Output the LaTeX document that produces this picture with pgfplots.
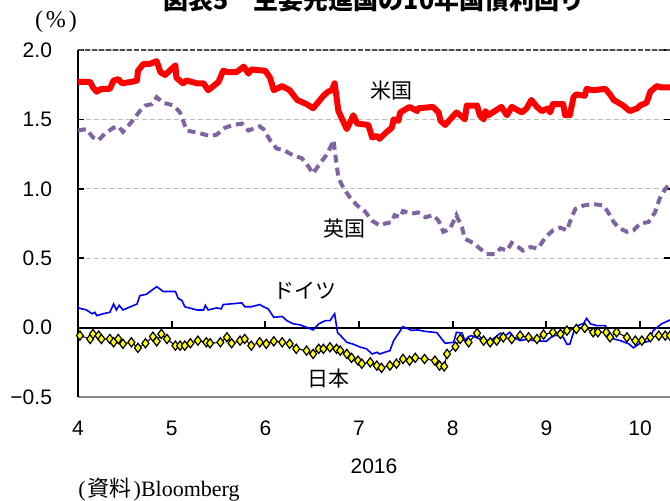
\documentclass[border=0pt]{standalone}
\usepackage{fontspec}
\setmainfont{Liberation Sans}
\newfontfamily\cjk{Noto Sans CJK JP}
\newfontfamily\serif{Liberation Serif}
\usepackage{pgfplots}
\pgfplotsset{compat=1.18}
\definecolor{usred}{RGB}{255,0,0}
\definecolor{ukpurple}{RGB}{128,100,162}
\definecolor{deblue}{RGB}{0,0,255}
\definecolor{jpyellow}{RGB}{255,255,0}

\begin{document}
\begin{tikzpicture}
% title, mostly outside the page as in the source image
\node[anchor=base, font=\cjk\bfseries\fontsize{12.5}{14}\selectfont] at (148pt,193.5pt) {図表5　主要先進国の10年国債利回り};

\begin{axis}[
  scale only axis, width=296pt, height=173.5pt,
  xmin=4, xmax=10.32, ymin=-0.5, ymax=2,
  clip=false,
  axis line style={draw=none},
  xtick={4,5,6,7,8,9,10},
  xticklabels={4,5,6,7,8,9,10},
  xtick style={draw=none},
  xticklabel style={anchor=center, yshift=-15.5pt, font=\fontsize{10.5}{12}\selectfont},
  ytick={-0.5,0,0.5,1,1.5,2},
  yticklabels={−0.5,0.0,0.5,1.0,1.5,2.0},
  yticklabel style={anchor=east, xshift=-9.5pt, font=\fontsize{10.5}{12}\selectfont},
  tick align=inside,
  ytick style={black, line width=0.8pt},
  major tick length=3pt,
  ymajorgrids,
  grid style={gray!50, line width=0.6pt, dash pattern=on 2.5pt off 1.5pt},
]
% axes frame pieces
\draw[gray!60!black, line width=0.6pt, dash pattern=on 2.5pt off 1pt] (rel axis cs:0,1) -- (rel axis cs:1,1);
\draw[gray!90, line width=1.2pt] (rel axis cs:0,0) -- (rel axis cs:1,0);
\draw[black, line width=0.8pt] (rel axis cs:0,0) -- (rel axis cs:0,1);
\draw[black, line width=1pt] (axis cs:4,0) -- (axis cs:10.32,0);
\pgfplotsinvokeforeach{5,6,7,8,9,10}{
  \draw[black, line width=0.9pt] (axis cs:#1,0) -- ([yshift=3.5pt]axis cs:#1,0);
}

% US
\addplot[usred, line width=3pt, line join=round] coordinates {
(4.00,1.77)(4.13,1.77)(4.16,1.73)(4.20,1.70)(4.25,1.72)(4.34,1.72)(4.38,1.78)(4.43,1.79)(4.47,1.76)(4.57,1.77)(4.63,1.78)(4.64,1.85)(4.70,1.90)(4.77,1.90)(4.84,1.92)(4.88,1.84)(4.93,1.82)(5.04,1.89)(5.05,1.80)(5.12,1.76)(5.16,1.78)(5.27,1.76)(5.34,1.76)(5.39,1.71)(5.50,1.77)(5.55,1.85)(5.61,1.84)(5.69,1.84)(5.77,1.88)(5.82,1.83)(5.85,1.86)(6.00,1.85)(6.05,1.80)(6.09,1.71)(6.18,1.74)(6.26,1.71)(6.34,1.64)(6.44,1.61)(6.51,1.58)(6.62,1.67)(6.67,1.70)(6.71,1.71)(6.74,1.76)(6.78,1.56)(6.87,1.43)(6.94,1.53)(6.98,1.47)(7.10,1.46)(7.14,1.37)(7.19,1.38)(7.22,1.36)(7.28,1.40)(7.35,1.44)(7.37,1.50)(7.42,1.49)(7.44,1.55)(7.54,1.59)(7.62,1.56)(7.63,1.58)(7.79,1.59)(7.85,1.55)(7.87,1.49)(7.92,1.46)(8.04,1.55)(8.08,1.53)(8.13,1.50)(8.15,1.60)(8.26,1.60)(8.29,1.53)(8.33,1.50)(8.35,1.56)(8.38,1.53)(8.52,1.59)(8.58,1.53)(8.63,1.59)(8.74,1.55)(8.79,1.58)(8.84,1.64)(8.90,1.59)(8.95,1.56)(9.02,1.58)(9.04,1.55)(9.07,1.61)(9.18,1.61)(9.20,1.53)(9.25,1.53)(9.29,1.66)(9.32,1.68)(9.41,1.67)(9.43,1.72)(9.50,1.71)(9.63,1.72)(9.68,1.68)(9.72,1.64)(9.82,1.60)(9.89,1.56)(9.97,1.58)(10.00,1.60)(10.07,1.62)(10.11,1.70)(10.18,1.74)(10.23,1.73)(10.32,1.73)
};

% UK
\addplot[ukpurple, line width=2pt, dash pattern=on 4pt off 2.5pt] coordinates {
(4.00,1.42)(4.09,1.43)(4.16,1.37)(4.22,1.35)(4.29,1.40)(4.38,1.44)(4.43,1.45)(4.48,1.41)(4.57,1.48)(4.66,1.56)(4.72,1.60)(4.79,1.61)(4.84,1.66)(4.91,1.62)(5.02,1.60)(5.09,1.55)(5.16,1.42)(5.30,1.40)(5.41,1.38)(5.48,1.39)(5.57,1.44)(5.66,1.46)(5.75,1.47)(5.82,1.42)(5.94,1.45)(5.98,1.43)(6.05,1.35)(6.12,1.29)(6.19,1.28)(6.30,1.24)(6.39,1.22)(6.44,1.18)(6.51,1.11)(6.58,1.18)(6.66,1.25)(6.73,1.35)(6.74,1.28)(6.78,1.08)(6.83,1.01)(6.90,0.94)(6.98,0.88)(7.06,0.84)(7.14,0.77)(7.22,0.735)(7.28,0.75)(7.35,0.76)(7.38,0.81)(7.44,0.795)(7.47,0.84)(7.56,0.82)(7.63,0.83)(7.71,0.795)(7.79,0.81)(7.85,0.77)(7.90,0.69)(7.97,0.71)(8.04,0.81)(8.10,0.72)(8.13,0.64)(8.22,0.61)(8.29,0.57)(8.36,0.53)(8.45,0.53)(8.51,0.57)(8.58,0.555)(8.63,0.61)(8.68,0.59)(8.75,0.555)(8.83,0.58)(8.91,0.57)(8.99,0.65)(9.07,0.70)(9.15,0.72)(9.22,0.70)(9.27,0.795)(9.31,0.855)(9.40,0.88)(9.50,0.89)(9.61,0.88)(9.66,0.83)(9.72,0.76)(9.77,0.72)(9.86,0.69)(9.93,0.70)(10.00,0.75)(10.09,0.76)(10.16,0.83)(10.21,0.93)(10.27,1.00)(10.32,1.035)
};

% Japan
\addplot[black, line width=0.5pt, mark=diamond*, mark size=2.3pt,
  mark options={fill=jpyellow, draw=black, line width=0.6pt}] coordinates {
(4.02,-0.058)(4.13,-0.082)(4.16,-0.046)(4.22,-0.058)(4.25,-0.082)(4.34,-0.082)(4.38,-0.106)(4.43,-0.082)(4.48,-0.117)(4.57,-0.106)(4.64,-0.146)(4.72,-0.113)(4.80,-0.065)(4.84,-0.099)(4.89,-0.046)(4.95,-0.082)(5.04,-0.13)(5.09,-0.13)(5.14,-0.13)(5.20,-0.113)(5.28,-0.094)(5.37,-0.106)(5.41,-0.113)(5.52,-0.106)(5.59,-0.07)(5.64,-0.113)(5.73,-0.094)(5.78,-0.082)(5.85,-0.13)(5.94,-0.106)(6.01,-0.117)(6.09,-0.099)(6.18,-0.106)(6.26,-0.117)(6.33,-0.153)(6.44,-0.166)(6.51,-0.19)(6.57,-0.153)(6.62,-0.153)(6.69,-0.142)(6.76,-0.153)(6.80,-0.166)(6.87,-0.19)(6.92,-0.218)(6.99,-0.238)(7.03,-0.26)(7.12,-0.25)(7.19,-0.274)(7.24,-0.29)(7.33,-0.274)(7.40,-0.26)(7.47,-0.226)(7.54,-0.238)(7.60,-0.218)(7.70,-0.226)(7.81,-0.238)(7.86,-0.274)(7.91,-0.28)(7.94,-0.19)(8.03,-0.137)(8.08,-0.082)(8.17,-0.106)(8.26,-0.04)(8.33,-0.094)(8.40,-0.106)(8.47,-0.094)(8.54,-0.07)(8.63,-0.082)(8.72,-0.058)(8.81,-0.07)(8.90,-0.082)(8.97,-0.05)(9.07,-0.034)(9.15,-0.046)(9.22,-0.022)(9.32,-0.01)(9.41,-0.002)(9.50,-0.034)(9.55,-0.034)(9.64,-0.034)(9.68,-0.07)(9.75,-0.034)(9.86,-0.07)(9.95,-0.094)(10.02,-0.094)(10.11,-0.07)(10.20,-0.058)(10.27,-0.058)(10.32,-0.058)
};

% Germany
\addplot[deblue, line width=0.8pt] coordinates {
(4.00,0.142)(4.09,0.127)(4.15,0.10)(4.18,0.11)(4.20,0.086)(4.27,0.10)(4.34,0.11)(4.38,0.17)(4.41,0.127)(4.44,0.16)(4.48,0.127)(4.63,0.17)(4.66,0.23)(4.73,0.24)(4.84,0.295)(4.91,0.26)(5.04,0.26)(5.07,0.21)(5.11,0.195)(5.14,0.15)(5.27,0.127)(5.34,0.127)(5.36,0.16)(5.39,0.127)(5.48,0.142)(5.53,0.135)(5.55,0.166)(5.75,0.178)(5.78,0.15)(5.85,0.15)(5.94,0.166)(5.98,0.15)(6.03,0.135)(6.09,0.074)(6.18,0.08)(6.23,0.05)(6.30,0.027)(6.37,0.02)(6.44,0.002)(6.51,-0.017)(6.57,0.027)(6.64,0.05)(6.69,0.05)(6.74,0.10)(6.77,-0.034)(6.87,-0.106)(6.94,-0.12)(7.01,-0.14)(7.08,-0.153)(7.14,-0.19)(7.19,-0.178)(7.22,-0.19)(7.33,-0.166)(7.37,-0.094)(7.47,0.007)(7.56,-0.02)(7.63,-0.017)(7.70,-0.027)(7.83,-0.036)(7.92,-0.113)(8.01,-0.106)(8.04,-0.034)(8.10,-0.04)(8.13,-0.094)(8.17,-0.065)(8.20,-0.058)(8.29,-0.082)(8.36,-0.094)(8.43,-0.082)(8.51,-0.04)(8.56,-0.058)(8.61,-0.034)(8.65,-0.07)(8.72,-0.094)(8.81,-0.082)(8.86,-0.094)(9.00,-0.099)(9.07,-0.058)(9.16,-0.058)(9.18,-0.07)(9.22,-0.12)(9.25,-0.12)(9.31,0.007)(9.40,0.031)(9.43,0.067)(9.47,0.027)(9.54,0.014)(9.63,0.014)(9.66,-0.022)(9.72,-0.082)(9.79,-0.094)(9.88,-0.117)(9.93,-0.146)(10.00,-0.113)(10.09,-0.099)(10.14,-0.022)(10.23,0.027)(10.32,0.055)
};

% series names
\node[font=\cjk\fontsize{10.5}{12}\selectfont] at (axis cs:7.35,1.707) {米国};
\node[font=\cjk\fontsize{10.5}{12}\selectfont] at (axis cs:6.85,0.713) {英国};
\node[font=\cjk\fontsize{10.5}{12}\selectfont] at (axis cs:6.42,0.267) {ドイツ};
\node[font=\cjk\fontsize{10.5}{12}\selectfont] at (axis cs:6.67,-0.367) {日本};

% unit, year, source
\node[font=\serif\fontsize{12}{14}\selectfont] at ([xshift=-11pt,yshift=14pt]rel axis cs:0,1) {(\kern1.5pt\%\kern1.5pt)};
\node[font=\fontsize{10.5}{12}\selectfont] at ([yshift=-34.5pt]rel axis cs:0.5,0) {2016};
\node[anchor=west, inner sep=0pt, font=\serif\fontsize{11}{13}\selectfont] at ([yshift=-46.5pt]rel axis cs:0,0) {(\kern1pt{\cjk 資料}\kern1pt)Bloomberg};
\end{axis}
\pgfresetboundingbox
\useasboundingbox (-39pt,-52pt) rectangle (296pt,198.5pt);
\end{tikzpicture}
\end{document}
